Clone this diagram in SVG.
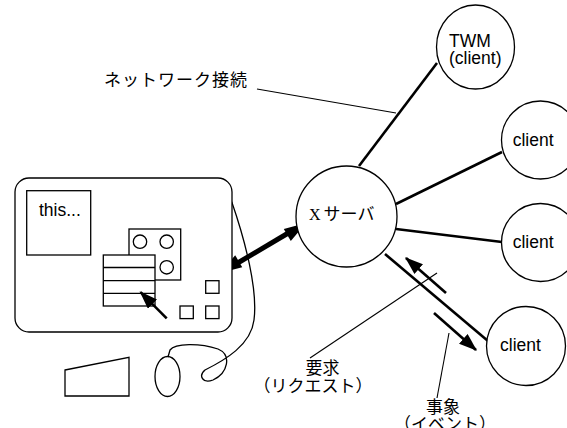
<svg xmlns="http://www.w3.org/2000/svg" width="567" height="428" viewBox="0 0 567 428">
  <defs>
    <marker id="head" viewBox="0 0 14 10" refX="13" refY="5" markerWidth="7" markerHeight="5" orient="auto" markerUnits="strokeWidth">
      <path d="M0,0 L14,5 L0,10 Z" fill="#000"/>
    </marker>
  </defs>
  <style>
    .ln { fill: none; stroke: #000; stroke-width: 1.3; }
    .thin { fill: none; stroke: #000; stroke-width: 1.1; }
    .link { fill: none; stroke: #000; stroke-width: 2.6; }
    .node { fill: #fff; stroke: #000; stroke-width: 1.3; }
    .lat { font-family: "Liberation Sans", Arial, sans-serif; font-size: 17.5px; fill: #000; }
    .jp { font-family: "Noto Sans CJK JP", sans-serif; font-size: 17px; fill: #000; }
  </style>
  <rect width="567" height="428" fill="#fff"/>

  <!-- connectors -->
  <g id="connectors">
    <line class="link" x1="359" y1="166" x2="437" y2="63"/>
    <line class="link" x1="396" y1="204" x2="502" y2="152"/>
    <line class="link" x1="396" y1="229" x2="502" y2="242"/>
    <line class="link" x1="385" y1="254" x2="488" y2="341"/>
    <!-- request / event flows -->
    <line class="link" x1="446" y1="293" x2="406" y2="258" stroke-width="2" marker-end="url(#head)"/>
    <line class="link" x1="434" y1="313" x2="476" y2="350" stroke-width="2" marker-end="url(#head)"/>
    <!-- display link (double arrow) -->
    <line x1="236" y1="264" x2="290" y2="232" stroke="#000" stroke-width="5"/>
    <polygon points="220,273 242.2,267.3 235.2,255.2" fill="#000"/>
    <polygon points="306,223 290.8,241 283.8,228.9" fill="#000"/>
    <!-- label leaders -->
    <line class="thin" x1="257" y1="89" x2="396" y2="113"/>
    <line class="thin" x1="437" y1="273" x2="310" y2="358"/>
    <line class="thin" x1="449" y1="333" x2="437" y2="398"/>
  </g>

  <!-- workstation -->
  <g id="workstation">
    <path class="ln" d="M231.7,201.7 C245,240 258,290 254,320 C251,345 225,360 205,370 C198,376 203,384 213,380 C228,373 232,355 218,349 C200,343 175,343 170,350 L168,357"/>
    <rect class="node" x="15" y="178" width="217" height="154" rx="14" ry="14"/>
    <rect class="ln" x="26.7" y="190.7" width="64" height="64.3"/>
    <text class="lat" x="39" y="216">this...</text>
    <rect class="node" x="129" y="229" width="51.7" height="51"/>
    <circle class="ln" cx="140" cy="241.7" r="6.7"/>
    <circle class="ln" cx="166.7" cy="241.7" r="6.7"/>
    <circle class="ln" cx="166.7" cy="267.3" r="6.7"/>
    <rect class="node" x="103.3" y="255" width="51.7" height="51"/>
    <line class="ln" x1="103.3" y1="267.5" x2="155" y2="267.5"/>
    <line class="ln" x1="103.3" y1="280.7" x2="155" y2="280.7"/>
    <line class="ln" x1="103.3" y1="293.3" x2="155" y2="293.3"/>
    <line class="link" x1="166.7" y1="318.3" x2="140.5" y2="292.2" stroke-width="2.2" marker-end="url(#head)"/>
    <rect class="ln" x="205.7" y="280.7" width="13.3" height="12.6"/>
    <rect class="ln" x="180" y="306" width="13.3" height="12.6"/>
    <rect class="ln" x="205.7" y="306" width="13.3" height="12.6"/>
    <polygon class="ln" points="65,370 129,357.3 129,396 65,396"/>
    <ellipse class="ln" cx="167.5" cy="376.5" rx="12.5" ry="20"/>
  </g>

  <!-- X server -->
  <g id="xserver">
    <circle class="node" cx="346.5" cy="216.5" r="50.5"/>
    <text x="309" y="220"><tspan font-family="Liberation Serif, serif" font-size="16px">X</tspan><tspan class="jp" font-size="18px" dx="3">サーバ</tspan></text>
  </g>

  <!-- clients -->
  <g id="twm">
    <ellipse class="node" cx="475.5" cy="47" rx="39" ry="42"/>
    <text class="lat" x="449" y="47">TWM</text>
    <text class="lat" x="449" y="64">(client)</text>
  </g>
  <g id="client1">
    <circle class="node" cx="540.5" cy="140" r="39"/>
    <text class="lat" x="512.7" y="145.5">client</text>
  </g>
  <g id="client2">
    <circle class="node" cx="540.5" cy="242.5" r="39"/>
    <text class="lat" x="512.7" y="248">client</text>
  </g>
  <g id="client3">
    <circle class="node" cx="526" cy="346" r="39.5"/>
    <text class="lat" x="500" y="350.5">client</text>
  </g>

  <!-- labels -->
  <g id="labels">
    <text class="jp" x="104" y="86" font-size="18px" textLength="143" lengthAdjust="spacing">ネットワーク接続</text>
    <text class="jp" x="322.5" y="374" text-anchor="middle">要求</text>
    <text class="jp" x="313" y="391.5" text-anchor="middle">（リクエスト）</text>
    <text class="jp" x="443" y="413" text-anchor="middle">事象</text>
    <text class="jp" x="445" y="430" text-anchor="middle">（イベント）</text>
  </g>
</svg>
